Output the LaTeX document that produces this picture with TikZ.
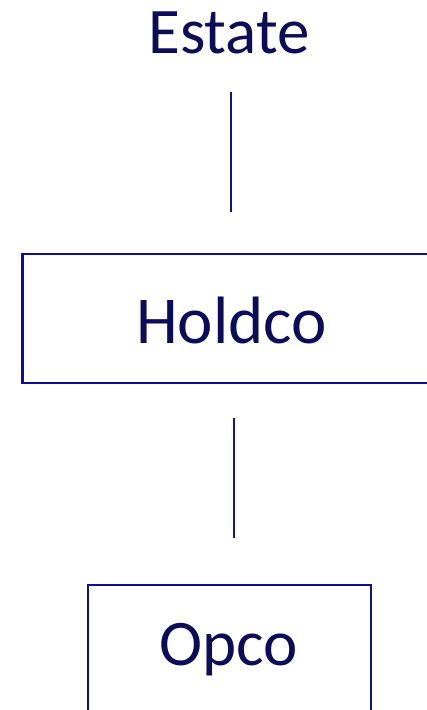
\documentclass[tikz,border=0pt]{standalone}
\usepackage{fontspec}
\setmainfont{Carlito}
\definecolor{txtnavy}{RGB}{12,12,88}
\definecolor{boxblue}{RGB}{14,14,150}
\definecolor{lineblue}{RGB}{20,20,130}
\begin{document}
\begin{tikzpicture}[x=1pt,y=1pt,
  lbl/.style={inner sep=0pt, anchor=base, text=txtnavy, font=\fontsize{65}{78}\selectfont},
  boxframe/.style={draw=boxblue, line width=2.6pt, fill=none, inner sep=0pt},
  link/.style={draw=lineblue, line width=2pt}]
\clip (0,0) rectangle (427,-710);
\fill[white] (0,0) rectangle (427,-710);
% boxes
\node[boxframe, minimum width=422.5pt, minimum height=129pt] (holdbox) at (233.75,-318.5) {};
\node[boxframe, minimum width=283pt, minimum height=175pt] (opbox) at (229.5,-672.5) {};
% labels
\node[lbl] (estate) at (229,-53) {Estate};
\node[lbl, font=\fontsize{67}{80}\selectfont] (holdco) at (231.5,-343) {Holdco};
\node[lbl] (opco) at (228.5,-665) {Opco};
% connectors
\coordinate (l1a) at (230.5,-92);
\coordinate (l1b) at (230.5,-212);
\coordinate (l2a) at (233.5,-418);
\coordinate (l2b) at (233.5,-538);
\draw[link] (l1a) -- (l1b);
\draw[link] (l2a) -- (l2b);
\end{tikzpicture}
\end{document}
